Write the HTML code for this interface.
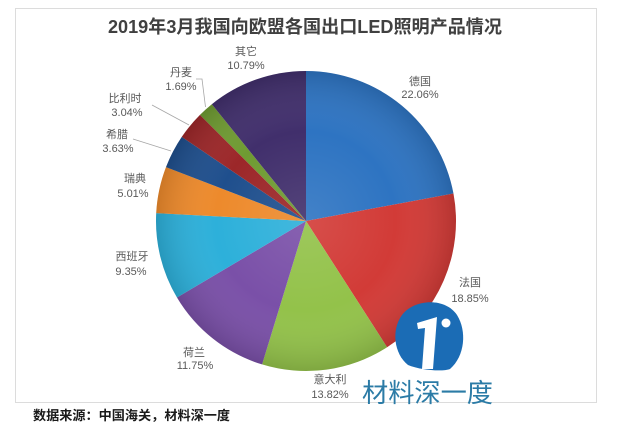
<!DOCTYPE html>
<html>
<head>
<meta charset="utf-8">
<style>
html,body{margin:0;padding:0;background:#fff;}
svg{display:block;}
</style>
</head>
<body>
<svg width="630" height="444" viewBox="0 0 630 444" xmlns="http://www.w3.org/2000/svg">
<defs>
<radialGradient id="shade" cx="306" cy="221" r="150" gradientUnits="userSpaceOnUse">
<stop offset="0" stop-color="#ffffff" stop-opacity="0.10"/>
<stop offset="0.6" stop-color="#ffffff" stop-opacity="0"/>
<stop offset="1" stop-color="#000000" stop-opacity="0.14"/>
</radialGradient>
</defs>
<rect x="0" y="0" width="630" height="444" fill="#ffffff"/>
<rect x="15.5" y="8.5" width="581" height="394" fill="#ffffff" stroke="#dcdcdc" stroke-width="1"/>

<text x="305" y="33" text-anchor="middle" textLength="394" lengthAdjust="spacingAndGlyphs" font-family="Liberation Sans, Noto Sans CJK SC, sans-serif" font-weight="bold" font-size="18" fill="#404040">2019年3月我国向欧盟各国出口LED照明产品情况</text>

<g>
<path d="M306 221 L306 71 A150 150 0 0 1 453.45 193.45 Z" fill="#2e74c2"/>
<path d="M306 221 L453.45 193.45 A150 150 0 0 1 387.09 347.20 Z" fill="#d23b37"/>
<path d="M306 221 L387.09 347.20 A150 150 0 0 1 262.08 364.42 Z" fill="#93c24a"/>
<path d="M306 221 L262.08 364.42 A150 150 0 0 1 176.99 297.52 Z" fill="#7a50a8"/>
<path d="M306 221 L176.99 297.52 A150 150 0 0 1 156.20 213.18 Z" fill="#2db0da"/>
<path d="M306 221 L156.20 213.18 A150 150 0 0 1 165.98 167.18 Z" fill="#ed8a2c"/>
<path d="M306 221 L165.98 167.18 A150 150 0 0 1 181.77 136.93 Z" fill="#1f4f8d"/>
<path d="M306 221 L181.77 136.93 A150 150 0 0 1 200.00 114.87 Z" fill="#9c2729"/>
<path d="M306 221 L200.00 114.87 A150 150 0 0 1 211.85 104.23 Z" fill="#6f9b32"/>
<path d="M306 221 L211.85 104.23 A150 150 0 0 1 306 71 Z" fill="#412f6c"/>
<circle cx="306" cy="221" r="150" fill="url(#shade)"/>
</g>

<g stroke="#a6a6a6" stroke-width="0.8" fill="none">
<polyline points="196,79 202,79 205.5,107"/>
<polyline points="152,105 189,125"/>
<polyline points="133,139 171,151"/>
</g>

<g font-family="Liberation Sans, Noto Sans CJK SC, sans-serif" font-size="11" fill="#595959" text-anchor="middle">
<text x="246" y="55">其它</text>
<text x="246" y="69">10.79%</text>
<text x="181" y="76">丹麦</text>
<text x="181" y="90">1.69%</text>
<text x="125" y="102">比利时</text>
<text x="127" y="116">3.04%</text>
<text x="117" y="138">希腊</text>
<text x="118" y="152">3.63%</text>
<text x="135" y="182">瑞典</text>
<text x="133" y="197">5.01%</text>
<text x="132" y="260">西班牙</text>
<text x="131" y="275">9.35%</text>
<text x="194" y="356">荷兰</text>
<text x="195" y="369">11.75%</text>
<text x="330" y="383">意大利</text>
<text x="330" y="398">13.82%</text>
<text x="470" y="286">法国</text>
<text x="470" y="302">18.85%</text>
<text x="420" y="85">德国</text>
<text x="420" y="98">22.06%</text>
</g>

<!-- logo -->
<path d="M408 365 C394 354 391 330 402 315 C414 299 445 297 457 315 C467 331 465 356 450 369 C442 372 420 370 408 365 Z" fill="#1b6cb5"/>
<polygon points="417,323 437,317 433,369 422,369 425,328 418,329" fill="#ffffff"/>
<circle cx="446" cy="323" r="4.5" fill="#ffffff"/>
<text x="362" y="402" textLength="131" lengthAdjust="spacingAndGlyphs" font-family="Noto Sans CJK SC, sans-serif" font-size="26" fill="#2b7ba6">材料深一度</text>

<text x="33" y="420" textLength="197" lengthAdjust="spacingAndGlyphs" font-family="Liberation Sans, Noto Sans CJK SC, sans-serif" font-weight="bold" font-size="13" fill="#1a1a1a">数据来源：中国海关，材料深一度</text>
</svg>
</body>
</html>
